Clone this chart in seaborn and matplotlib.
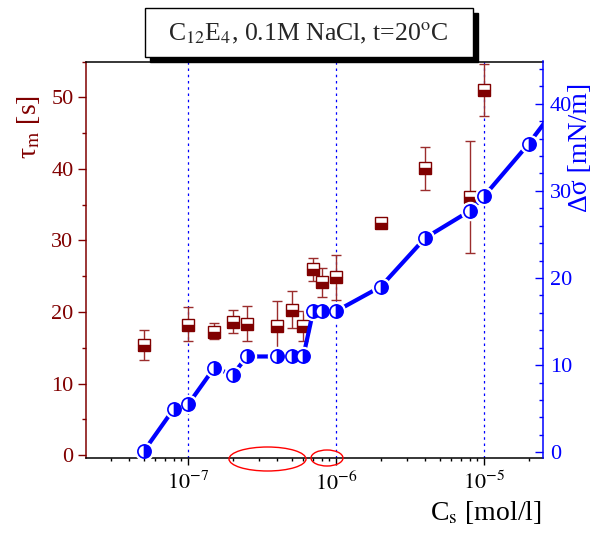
import numpy as np
import pandas as pd
import matplotlib
matplotlib.use("Agg")
import matplotlib.pyplot as plt
import seaborn as sns
from matplotlib.patches import Rectangle, Ellipse
from matplotlib.ticker import MultipleLocator, LogLocator, NullFormatter

# ---------------- data ----------------
conc_sigma = [5e-8, 8e-8, 1e-7, 1.5e-7, 2e-7, 2.5e-7, 4e-7, 5e-7, 6e-7,
              7e-7, 8e-7, 1e-6, 2e-6, 4e-6, 8e-6, 1e-5, 2e-5, 4e-5]
delta_sigma = [0.1, 5.0, 5.5, 9.7, 8.9, 11.0, 11.0, 11.0, 11.0,
               16.2, 16.2, 16.2, 19.0, 24.6, 27.7, 29.4, 35.4, 42.2]

conc_tau = [5e-8, 1e-7, 1.5e-7, 2e-7, 2.5e-7, 4e-7, 5e-7, 6e-7,
            7e-7, 8e-7, 1e-6, 2e-6, 4e-6, 8e-6, 1e-5]
tau_m = [15.4, 18.2, 17.2, 18.6, 18.3, 18.1, 20.3, 18.1,
         26.0, 24.2, 24.9, 32.4, 40.1, 36.1, 51.0]
tau_upper = [17.5, 20.7, 18.4, 20.3, 20.8, 21.6, 22.9, 20.1,
             27.6, 26.1, 28.0, 32.8, 43.1, 43.9, 54.6]
tau_lower = [13.3, 16.0, 16.2, 17.1, 16.0, 14.0, 17.8, 16.0,
             24.4, 22.1, 21.7, 31.9, 37.0, 28.2, 47.4]

x_ticks = [1e-7, 1e-6, 1e-5]
x_tick_labels = [r"$10^{-7}$", r"$10^{-6}$", r"$10^{-5}$"]
tau_ticks = [0, 10, 20, 30, 40, 50]
sigma_ticks = [0, 10, 20, 30, 40]

title = r"C$_{12}$E$_4$, 0.1M NaCl, t=20$^{\rm o}$C"

df_sigma = pd.DataFrame({"c": conc_sigma, "ds": delta_sigma})
df_tau = pd.DataFrame({"c": conc_tau, "tau": tau_m,
                       "lo": tau_lower, "hi": tau_upper})

# ---------------- style ----------------
sns.set_style("ticks")
plt.rcParams["font.family"] = ["Liberation Serif", "DejaVu Serif"]
plt.rcParams["mathtext.fontset"] = "stix"

RED = "#800000"
ERR = "#9b2d2d"
BLUE = "#0000ff"

W, H = 593, 533
fig = plt.figure(figsize=(W / 100, H / 100), dpi=100)
ax = fig.add_axes([86 / W, 75 / H, 456.7 / W, 396.5 / H])
ax2 = ax.twinx()

# ---------------- left axis: tau ----------------
ax.set_xscale("log")
ax.set_xlim(2.04e-8, 2.49e-5)
ax.set_ylim(-0.4, 55)

for xv in x_ticks:
    ax.axvline(xv, color=BLUE, lw=0.9, ls=(0, (2, 3)), zorder=1)

yerr = [df_tau["tau"] - df_tau["lo"], df_tau["hi"] - df_tau["tau"]]
ax.errorbar(df_tau["c"], df_tau["tau"], yerr=yerr, fmt="none",
            ecolor=ERR, elinewidth=1.0, capsize=3.5, capthick=1.0, zorder=2)
ax.plot(df_tau["c"], df_tau["tau"], ls="none", marker="s", ms=8,
        fillstyle="bottom", markerfacecolor=RED, markerfacecoloralt="white",
        markeredgecolor=RED, mew=1.0, zorder=3)

ax.set_xticks(x_ticks)
ax.set_xticklabels(x_tick_labels)
ax.xaxis.set_minor_locator(LogLocator(base=10, subs=np.arange(2, 10)))
ax.xaxis.set_minor_formatter(NullFormatter())
ax.tick_params(axis="x", which="major", direction="out", length=5, width=1,
               labelsize=16, pad=5, colors="black")
ax.tick_params(axis="x", which="minor", direction="out", length=2.5, width=1,
               colors="black")

ax.set_yticks(tau_ticks)
ax.yaxis.set_minor_locator(MultipleLocator(5))
ax.tick_params(axis="y", which="major", direction="out", length=6, width=1,
               labelsize=16, pad=3, colors=RED)
ax.tick_params(axis="y", which="minor", direction="out", length=3, width=1,
               colors=RED)

for s in ["top", "bottom"]:
    ax.spines[s].set_color("black")
    ax.spines[s].set_linewidth(1.1)
ax.spines["left"].set_color(RED)
ax.spines["left"].set_linewidth(1.1)
ax.spines["right"].set_visible(False)

ax.set_ylabel("τ$_{\\rm m}$ [s]", fontsize=20, color=RED)
ax.yaxis.set_label_coords((28 - 86) / 456.7, (458 - 127) / 396.5)
ax.yaxis.label.set_va("center")

ax.set_xlabel("C$_{\\rm s}$ [mol/l]", fontsize=20, color="black")
ax.xaxis.set_label_coords((486 - 86) / 456.7, (458 - 513) / 396.5)
ax.xaxis.label.set_va("center")

# ---------------- right axis: delta sigma ----------------
ax2.set_ylim(-0.65, 44.85)
sns.lineplot(data=df_sigma, x="c", y="ds", ax=ax2, color=BLUE, lw=3,
             sort=False, estimator=None, zorder=2, legend=False)
ax2.plot(df_sigma["c"], df_sigma["ds"], ls="none", marker="o", ms=13,
         color="white", mec="white", zorder=3)
ax2.plot(df_sigma["c"], df_sigma["ds"], ls="none", marker="o", ms=9.5,
         fillstyle="right", markerfacecolor=BLUE, markerfacecoloralt="white",
         markeredgecolor=BLUE, mew=1.2, zorder=4)
ax2.set_xlim(2.04e-8, 2.49e-5)

ax2.set_yticks(sigma_ticks)
ax2.yaxis.set_minor_locator(MultipleLocator(2))
ax2.tick_params(axis="y", which="major", direction="in", length=6, width=1,
                labelsize=16, pad=5, colors=BLUE)
ax2.tick_params(axis="y", which="minor", direction="in", length=3, width=1,
                colors=BLUE)
for s in ["left", "top", "bottom"]:
    ax2.spines[s].set_visible(False)
ax2.spines["right"].set_color(BLUE)
ax2.spines["right"].set_linewidth(1.1)

ax2.set_ylabel("Δσ [mN/m]", fontsize=20, color=BLUE)
ax2.yaxis.set_label_coords((581 - 86) / 456.7, (458 - 147) / 396.5)
ax2.yaxis.label.set_va("center")
ax2.yaxis.label.set_ha("center")
ax2.set_xlabel("")

# ---------------- title box with shadow ----------------
bx0, by0, bx1, by1 = 145, 8, 473, 57
fig.add_artist(Rectangle(((bx0 + 5) / W, 1 - (by1 + 5) / H),
                         (bx1 - bx0) / W, (by1 - by0) / H,
                         transform=fig.transFigure, facecolor="black",
                         edgecolor="black", lw=1, zorder=5))
fig.add_artist(Rectangle((bx0 / W, 1 - by1 / H),
                         (bx1 - bx0) / W, (by1 - by0) / H,
                         transform=fig.transFigure, facecolor="white",
                         edgecolor="black", lw=1, zorder=6))
fig.text(308 / W, 1 - 33.5 / H, title, ha="center", va="center",
         fontsize=18.5, zorder=7)

# ---------------- red ellipses on the axis ----------------
fig.add_artist(Ellipse((267.5 / W, 1 - 459 / H), 77 / W, 24 / H,
                       transform=fig.transFigure, fill=False,
                       edgecolor="red", lw=1, zorder=8))
fig.add_artist(Ellipse((327 / W, 1 - 458 / H), 32 / W, 16 / H,
                       transform=fig.transFigure, fill=False,
                       edgecolor="red", lw=1, zorder=8))

fig.savefig("out.png", dpi=100)
